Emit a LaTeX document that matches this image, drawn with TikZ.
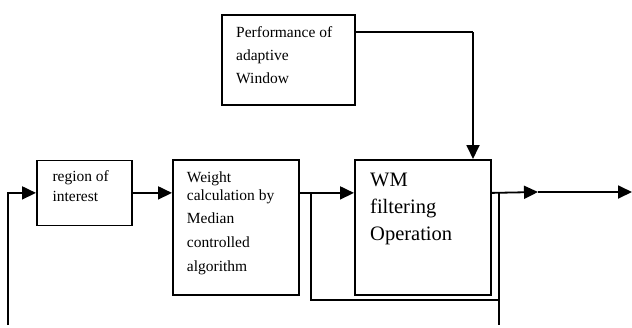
\documentclass[tikz,border=0pt]{standalone}
\usepackage{fontspec}
\setmainfont{Liberation Serif}
\usetikzlibrary{arrows.meta}

\tikzset{
  blk/.style={draw=black,line width=1.8pt,rectangle,anchor=north west,inner sep=0pt},
  lbl/.style={anchor=base west,align=left,inner sep=0pt,font=\fontsize{15.5}{20}\selectfont},
  wire/.style={draw=black,line width=1.8pt},
  arr/.style={wire,-{Triangle[length=14pt,width=13pt]}}
}

\begin{document}
\begin{tikzpicture}[x=1pt,y=1pt,yscale=-1]
  \useasboundingbox (0,0) rectangle (632,327);

  % blocks
  \node[blk,minimum width=95pt,minimum height=65pt] (roi) at (36,159.5) {};
  \node[blk,minimum width=126pt,minimum height=135pt] (wcalc) at (172,159) {};
  \node[blk,minimum width=136pt,minimum height=135pt] (wm) at (354,159) {};
  \node[blk,minimum width=133pt,minimum height=90pt] (perf) at (221,14) {};

  % texts (anchored on the baseline of their last line)
  \node[lbl] (roitxt) at (52.3,201.7) {region of\\interest};
  \node[lbl,font=\fontsize{15.5}{18.5}\selectfont] (wtxt) at (186.7,271)
    {Weight\\calculation by\\[4pt]Median\\[5.5pt]controlled\\[5.5pt]algorithm};
  \node[lbl,font=\fontsize{20.5}{27}\selectfont] (wmtxt) at (370,240.7)
    {WM\\filtering\\Operation};
  \node[lbl,font=\fontsize{15.5}{23}\selectfont] (perftxt) at (236,83)
    {Performance of\\adaptive\\Window};

  % free ends
  \coordinate (inlet) at (8,325);
  \coordinate (split) at (311,192);
  \coordinate (tap) at (499,300);
  \coordinate (outlet) at (499,325);
  \coordinate (mid) at (538,192);
  \coordinate (sink) at (632,192);
  \coordinate (fb) at (473,32);

  % connectors
  \draw[arr] (inlet) |- (roi.west);
  \draw[arr] (roi.east) -- (roi.east -| wcalc.west);
  \draw[arr] (wcalc.east |- roi.east) -- (wm.west |- roi.east);
  \draw[wire] (split) |- (tap);
  \draw[wire] (tap |- roi.east) -- (outlet);
  \draw[arr] (wm.east |- roi.east) -- (mid);
  \draw[arr] (mid) -- (sink);
  \draw[wire] (perf.east |- fb) -- (fb);
  \draw[arr] (fb) -- (fb |- wm.north);
\end{tikzpicture}
\end{document}
